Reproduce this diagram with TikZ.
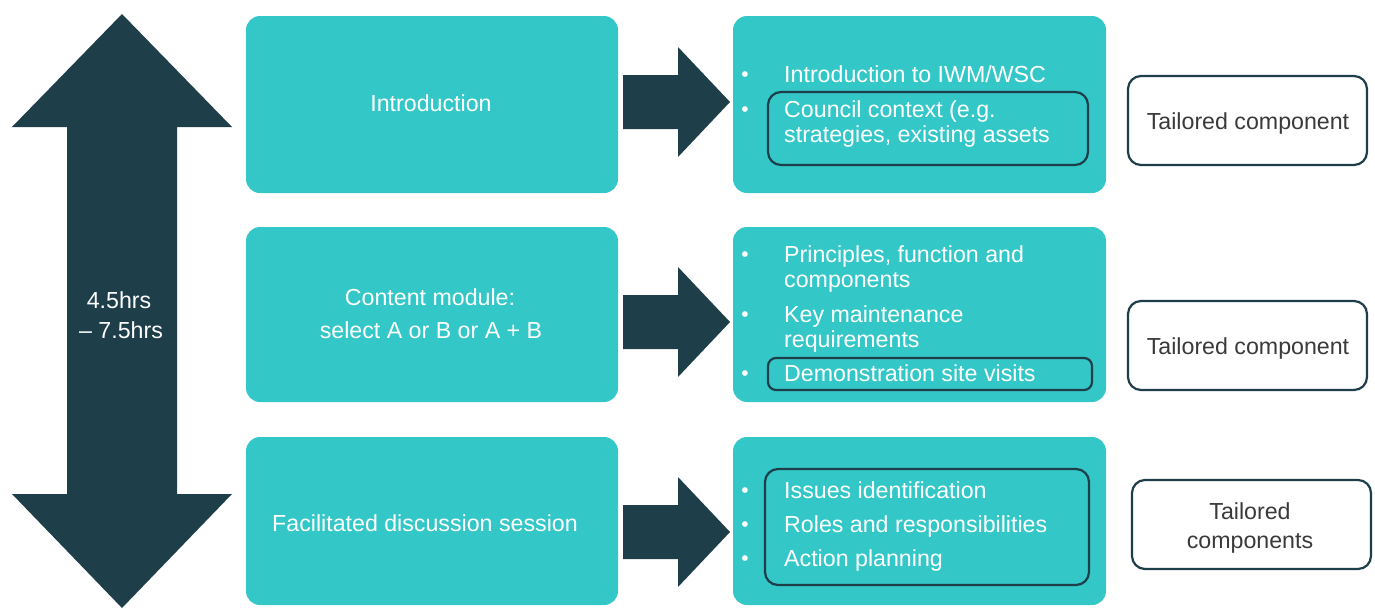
\documentclass[tikz,border=0pt]{standalone}
\usepackage{fontspec}
\setmainfont{Liberation Sans}
\definecolor{tealc}{RGB}{52,199,200}
\definecolor{darkc}{RGB}{30,62,74}
\definecolor{greyt}{RGB}{58,58,58}
\tikzset{
  tealbox/.style={fill=tealc, draw=none, rounded corners=14pt, minimum width=#1, inner sep=0pt},
  outbox/.style={draw=darkc, line width=2.2pt, rounded corners=13pt, fill=none, inner sep=0pt},
  whitetxt/.style={text=white, font=\fontsize{23.2}{26}\selectfont, inner sep=0pt},
  greytxt/.style={text=greyt, font=\fontsize{23.2}{26}\selectfont, inner sep=0pt},
  bul/.style={text=white, font=\fontsize{21}{22}\selectfont, inner sep=0pt},
  blockarr/.style={fill=darkc, draw=none}
}
\begin{document}
\begin{tikzpicture}[x=1pt,y=-1pt]
\useasboundingbox (0,0) rectangle (1375,608);
% double arrow
\fill[darkc] (122,14) -- (232,127) -- (177,127) -- (177,494) -- (232,494) -- (122,608)
  -- (12,494) -- (67,494) -- (67,127) -- (12,127) -- cycle;
\node[whitetxt, anchor=base] (t1) at (119,308) {4.5hrs};
\node[whitetxt, anchor=base] (t2) at (121,338) {– 7.5hrs};
% left boxes
\node[tealbox=372pt, minimum height=177pt] (L1) at (432,104.5) {};
\node[tealbox=372pt, minimum height=175pt] (L2) at (432,314.5) {};
\node[tealbox=372pt, minimum height=168pt] (L3) at (432,521) {};
% right boxes
\node[tealbox=373pt, minimum height=177pt] (R1) at (919.5,104.5) {};
\node[tealbox=373pt, minimum height=175pt] (R2) at (919.5,314.5) {};
\node[tealbox=373pt, minimum height=168pt] (R3) at (919.5,521) {};
% block arrows between boxes
\foreach \c in {102, 322, 532}{
  \fill[darkc] (623,\c-27) -- (678,\c-27) -- (678,\c-55) -- (730,\c) -- (678,\c+55)
    -- (678,\c+27) -- (623,\c+27) -- cycle;
}
% left texts
\node[whitetxt, anchor=base] (l1) at (431,111) {Introduction};
\node[whitetxt, anchor=base] (l2a) at (430,305) {Content module:};
\node[whitetxt, anchor=base] (l2b) at (431,338) {select A or B or A + B};
\node[whitetxt, anchor=base] (l3) at (425,531) {Facilitated discussion session};
% inner outlined boxes
\node[outbox, minimum width=320pt, minimum height=73pt] (I1) at (928,128.5) {};
\node[outbox, minimum width=324pt, minimum height=32pt, rounded corners=8pt] (I2) at (930,374) {};
\node[outbox, minimum width=324pt, minimum height=116pt] (I3) at (927,527) {};
% right texts R1
\node[bul, anchor=base] (b11) at (745,81) {•};
\node[bul, anchor=base] (b12) at (745,116) {•};
\node[whitetxt, anchor=base west] (r11) at (784,82) {Introduction to IWM/WSC};
\node[whitetxt, anchor=base west] (r12) at (784,117) {Council context (e.g.};
\node[whitetxt, anchor=base west] (r13) at (784,142) {strategies, existing assets};
% right texts R2
\node[bul, anchor=base] (b21) at (745,261) {•};
\node[bul, anchor=base] (b22) at (745,321) {•};
\node[bul, anchor=base] (b23) at (745,380) {•};
\node[whitetxt, anchor=base west] (r21) at (784,262) {Principles, function and};
\node[whitetxt, anchor=base west] (r22) at (784,287) {components};
\node[whitetxt, anchor=base west] (r23) at (784,322) {Key maintenance};
\node[whitetxt, anchor=base west] (r24) at (784,347) {requirements};
\node[whitetxt, anchor=base west] (r25) at (784,381) {Demonstration site visits};
% right texts R3
\node[bul, anchor=base] (b31) at (745,497) {•};
\node[bul, anchor=base] (b32) at (745,531) {•};
\node[bul, anchor=base] (b33) at (745,565) {•};
\node[whitetxt, anchor=base west] (r31) at (784,498) {Issues identification};
\node[whitetxt, anchor=base west] (r32) at (784,532) {Roles and responsibilities};
\node[whitetxt, anchor=base west] (r33) at (784,566) {Action planning};
% tailored boxes
\node[outbox, fill=white, minimum width=239pt, minimum height=89pt] (T1) at (1247.5,120.5) {};
\node[outbox, fill=white, minimum width=239pt, minimum height=89pt] (T2) at (1247.5,345.5) {};
\node[outbox, fill=white, minimum width=239pt, minimum height=89pt] (T3) at (1251.5,524.5) {};
\node[greytxt, anchor=base] (tt1) at (1248,129) {Tailored component};
\node[greytxt, anchor=base] (tt2) at (1248,354) {Tailored component};
\node[greytxt, anchor=base] (tt3a) at (1250,519) {Tailored};
\node[greytxt, anchor=base] (tt3b) at (1250,548) {components};
\end{tikzpicture}
\end{document}
